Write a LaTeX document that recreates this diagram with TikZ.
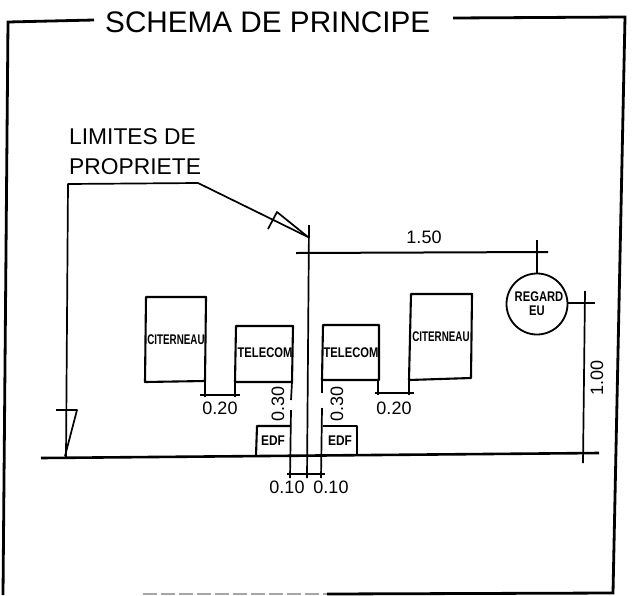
\documentclass[tikz,border=0pt]{standalone}
\usepackage{fontspec}
\setmainfont{Liberation Sans}
\tikzset{
  framel/.style={line width=2.8pt,black,line join=miter},
  boxl/.style={line width=2.1pt,black,line join=round},
  thinl/.style={line width=1.7pt,black},
  biglbl/.style={inner sep=0pt,anchor=west,font=\fontsize{22.8}{24}\selectfont},
  titlelbl/.style={inner sep=0pt,anchor=west,font=\fontsize{29.7}{32}\selectfont},
  dimlbl/.style={inner sep=0pt,font=\fontsize{18}{19}\selectfont},
  boxlbl/.style={inner sep=0pt,font=\bfseries\fontsize{14}{15}\selectfont},
}
\begin{document}
\begin{tikzpicture}[x=1pt,y=-1pt]
\useasboundingbox (0,0) rectangle (637,595);
\fill[white] (0,0) rectangle (637,595);
% frame
\draw[framel] (94,20) -- (8,22) -- (3,595);
\draw[framel] (453,18) -- (625,17) -- (613,593) -- (327,594);
\draw[line width=1.4pt,gray!70,dash pattern=on 14pt off 4pt] (143,594) -- (327,594);
\node[titlelbl] (title) at (105,22) {SCHEMA DE PRINCIPE};
% property limits label
\node[biglbl] (lim1) at (69,137) {LIMITES DE};
\node[biglbl] (lim2) at (69,167) {PROPRIETE};
\coordinate (tip) at (308,237);
\draw[thinl,line join=round] (66,457) -- (68,184) -- (198,183) -- (tip);
\draw[thinl,line join=round] (268,229) -- (277,212) -- (tip);
\draw[thinl] (309,225) -- (307,478);
% ground
\draw[line width=2.6pt] (41,458) -- (599,453);
\draw[thinl,line join=round] (56,410) -- (77,410) -- (65,456);
% boxes
\draw[boxl] (146,297) -- (206,297) -- (205,381) -- (145,382) -- cycle;
\draw[boxl] (236,326) -- (293,326) -- (292,382) -- (235,382) -- cycle;
\draw[boxl] (323,325) -- (379,325) -- (379,380) -- (322,380) -- cycle;
\draw[boxl] (411,294) -- (472,294) -- (471,378) -- (409,380) -- cycle;
\draw[boxl] (256,456) -- (257,426) -- (291,426);
\draw[boxl] (323,426) -- (357,426) -- (357,456);
\node[boxlbl] (cit1) at (176,340) {\scalebox{.7}[1]{CITERNEAU}};
\node[boxlbl] (tel1) at (265,353) {\scalebox{.8}[1]{TELECOM}};
\node[boxlbl] (tel2) at (351,353) {\scalebox{.8}[1]{TELECOM}};
\node[boxlbl] (cit2) at (441,337) {\scalebox{.7}[1]{CITERNEAU}};
\node[boxlbl] (edf1) at (273,441) {\scalebox{.85}[1]{EDF}};
\node[boxlbl] (edf2) at (340,441) {\scalebox{.85}[1]{EDF}};
% regard
\node[draw,circle,line width=1.8pt,minimum size=61pt,inner sep=0pt] (reg) at (537,304) {};
\node[boxlbl] (regt) at (539,297) {\scalebox{.8}[1]{REGARD}};
\node[boxlbl] (eut) at (537,311) {\scalebox{.8}[1]{EU}};
% dim 0.20
\draw[thinl] (205,381) -- (205,397);
\draw[thinl] (235,382) -- (235,397);
\draw[thinl] (200,395) -- (240,395);
\node[dimlbl] (d20a) at (220,408) {0.20};
\draw[thinl] (378,380) -- (378,395);
\draw[thinl] (409,380) -- (409,395);
\draw[thinl] (375,393) -- (414,393);
\node[dimlbl] (d20b) at (394,408) {0.20};
% dim 0.30
\draw[thinl] (292,382) -- (291,400);
\draw[thinl] (291,410) -- (290,478);
\draw[thinl] (322,380) -- (322,393);
\draw[thinl] (322,408) -- (321,478);
\node[dimlbl,rotate=90] (d30a) at (278,404) {0.30};
\node[dimlbl,rotate=90] (d30b) at (337,404) {0.30};
% dim 0.10
\draw[thinl] (287,474) -- (325,474);
\node[dimlbl] (d10a) at (287,487) {0.10};
\node[dimlbl] (d10b) at (331,487) {0.10};
% dim 1.50
\draw[line width=2pt] (296,253) -- (548,252);
\draw[thinl] (537,240) -- (537,273);
\node[dimlbl] (d150) at (424,237) {1.50};
% dim 1.00
\draw[thinl] (568,303) -- (595,303);
\draw[thinl] (585,291) -- (583,463);
\node[dimlbl,rotate=90] (d100) at (597,378) {1.00};
\end{tikzpicture}
\end{document}
